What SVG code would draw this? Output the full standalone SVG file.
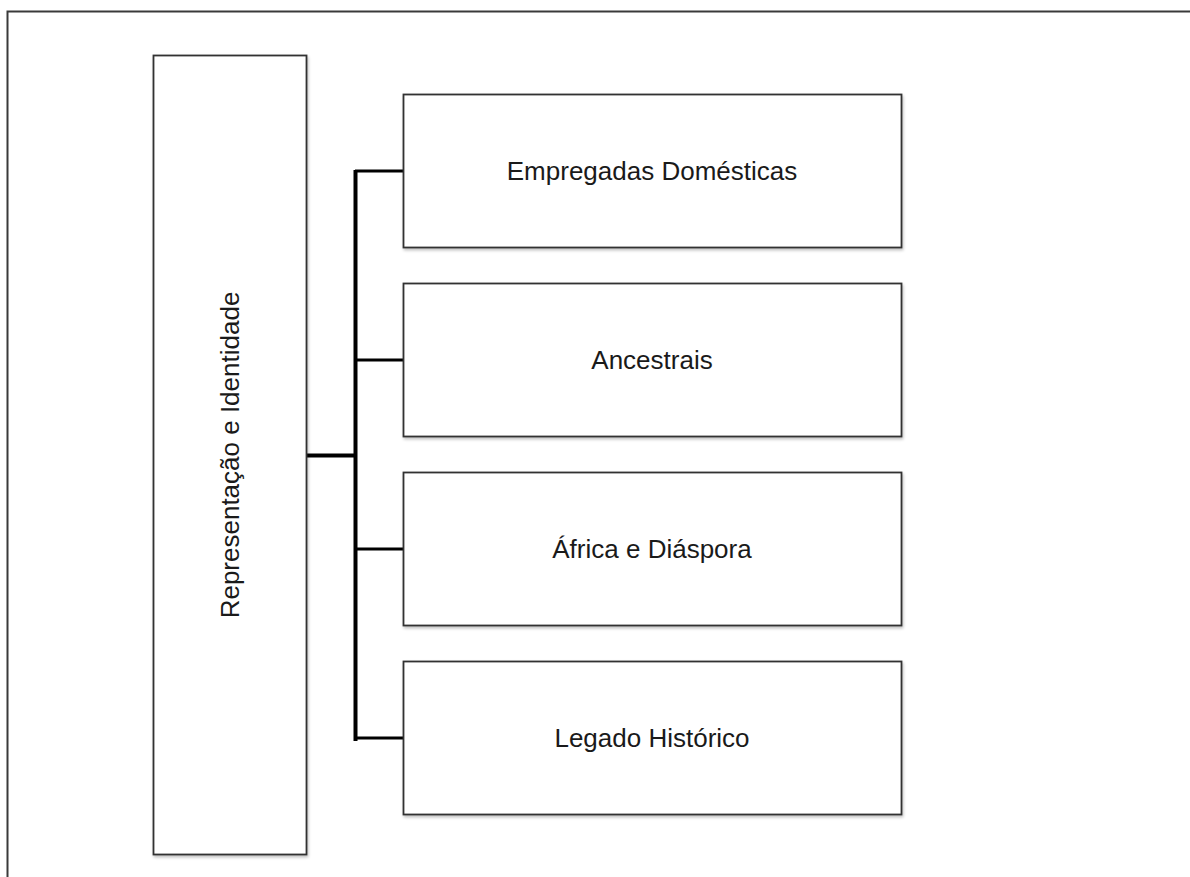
<svg xmlns="http://www.w3.org/2000/svg" width="1190" height="877" viewBox="0 0 1190 877">
<defs>
<filter id="sh" x="-5%" y="-5%" width="110%" height="110%">
<feGaussianBlur in="SourceAlpha" stdDeviation="1.5"/>
<feOffset dx="1" dy="2" result="b"/>
<feComponentTransfer><feFuncA type="linear" slope="0.25"/></feComponentTransfer>
<feMerge><feMergeNode/><feMergeNode in="SourceGraphic"/></feMerge>
</filter>
</defs>
<style>
.box{fill:#ffffff;stroke:#333333;stroke-width:1.8;filter:url(#sh)}
.lbl{font-family:"Liberation Sans",Arial,sans-serif;font-size:26px;fill:#1a1a1a;text-anchor:middle;dominant-baseline:central}
.con{fill:none;stroke:#000000;stroke-width:4;stroke-linecap:square}
.con2{fill:none;stroke:#000000;stroke-width:3}
</style>
<rect x="0" y="0" width="1190" height="877" fill="#ffffff"/>
<rect x="7.5" y="11.5" width="1200" height="900" fill="none" stroke="#3a3a3a" stroke-width="2"/>
<g id="connectors">
<path class="con" d="M307 455.5 H355 M355.5 172 V739"/>
<path class="con2" d="M355 171 H403 M355 360 H403 M355 549 H403 M355 738 H403"/>
</g>
<g id="node-root">
<rect class="box" x="153.5" y="55.5" width="153" height="799"/>
<text class="lbl" transform="translate(230 455) rotate(-90)">Representação e Identidade</text>
</g>
<g id="node-empregadas">
<rect class="box" x="403.5" y="94.5" width="498" height="153"/>
<text class="lbl" x="652" y="171">Empregadas Domésticas</text>
</g>
<g id="node-ancestrais">
<rect class="box" x="403.5" y="283.5" width="498" height="153"/>
<text class="lbl" x="652" y="360">Ancestrais</text>
</g>
<g id="node-africa">
<rect class="box" x="403.5" y="472.5" width="498" height="153"/>
<text class="lbl" x="652" y="549">África e Diáspora</text>
</g>
<g id="node-legado">
<rect class="box" x="403.5" y="661.5" width="498" height="153"/>
<text class="lbl" x="652" y="738">Legado Histórico</text>
</g>
</svg>
